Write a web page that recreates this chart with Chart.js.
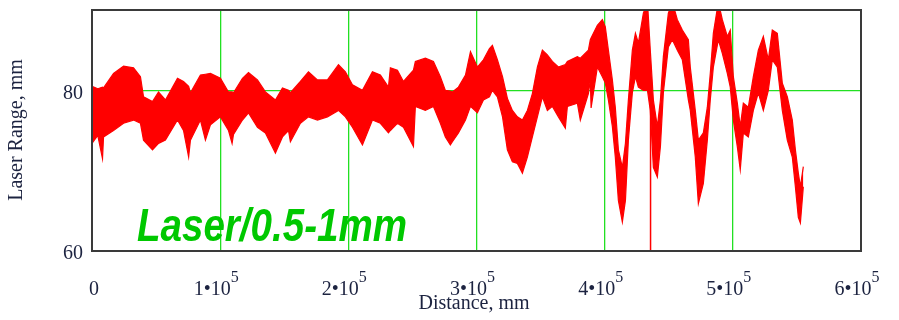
<!DOCTYPE html>
<html>
<head>
<meta charset="utf-8">
<script src="https://cdn.jsdelivr.net/npm/chart.js@4.4.1/dist/chart.umd.min.js"></script>
<style>
html,body{margin:0;padding:0;background:#fff;}
#wrap{width:899px;height:320px;position:relative;}
</style>
</head>
<body>
<div id="wrap"><canvas id="c" width="899" height="320"></canvas></div>
<script>
// Distance along the run, mm
const distance = [0, 4500, 8200, 9000, 16800, 24600, 32400, 37800, 40200, 47200, 51900, 57300, 66700, 71400, 75400, 76800,
  84600, 88500, 92400, 100200, 106500, 109300, 110400, 117400, 122100, 129100, 135300, 143100, 148600, 153300, 154800,
  162600, 168900, 175900, 183700, 192300, 197700, 203200, 211000, 218800, 225000, 231300, 232800,
  238300, 243000, 250800, 252300, 260100, 266400, 271800, 275700, 279600, 281200, 285900, 291400, 295300,
  300700, 305400, 310100, 312400, 316300, 320300, 324100, 328000, 331900, 335800, 339700, 343600,
  347500, 351400, 355300, 359200, 363900, 369300, 370900, 378700, 381000, 387300, 388800, 389400,
  394300, 398200, 400500, 402900, 406000, 408300, 410700, 413800, 416200, 418500, 421600, 424000,
  426300, 430200, 433400, 435600, 438000, 441100, 443500, 445800, 449700, 452800, 456700, 460600,
  465300, 466800, 470700, 473100, 477000, 480100, 482400, 484800, 488700, 491800, 495700, 498000,
  500400, 503500, 505800, 508200, 512100, 516000, 519900, 523800, 527700, 530800, 534700, 538600,
  542500, 546400, 548800, 551100, 552700, 555000];
// Upper envelope of the laser range signal, mm
const rangeHigh = [80.5, 80.2, 80.4, 80.3, 82.1, 83.0, 82.8, 81.7, 79.2, 78.6, 79.8, 78.8, 81.5, 81.1, 80.5, 79.7,
  81.9, 82.0, 82.1, 81.5, 79.8, 79.8, 79.7, 81.5, 82.2, 81.3, 79.8, 78.8, 80.3, 80.0, 79.7,
  81.1, 82.3, 81.3, 81.3, 83.2, 82.3, 80.7, 80.0, 82.3, 81.9, 80.4, 82.8,
  82.5, 81.1, 82.5, 83.6, 84.0, 83.6, 81.7, 80.0, 79.9, 79.8, 80.4, 81.9, 84.8,
  82.9, 83.8, 85.2, 85.6, 83.8, 81.7, 79.0, 77.5, 76.7, 76.3, 77.5, 79.6,
  82.9, 85.0, 84.4, 83.6, 82.9, 83.2, 83.6, 84.2, 84.0, 85.0, 86.3, 86.5,
  88.1, 88.8, 87.9, 85.0, 81.3, 77.9, 72.6, 70.4, 73.4, 78.8, 85.0, 87.1,
  85.9, 89.6, 91.0, 85.0, 78.8, 75.5, 78.8, 84.2, 89.6, 91.0, 88.8, 87.5,
  86.3, 82.9, 77.5, 73.8, 74.7, 77.9, 82.1, 87.1, 91.0, 88.8, 86.7, 87.5,
  81.7, 78.4, 75.5, 78.4, 77.9, 81.7, 85.0, 86.7, 83.8, 87.5, 87.1, 80.9,
  79.2, 76.3, 72.6, 69.7, 68.0, 70.5];
// Lower envelope (including downward noise spikes), mm
const rangeLow = [73.4, 74.4, 71.5, 74.2, 75.0, 75.9, 76.3, 75.9, 73.8, 72.6, 73.4, 73.8, 76.3, 75.0, 71.7, 73.8,
  76.3, 73.8, 75.7, 76.7, 75.0, 73.4, 74.5, 76.3, 77.2, 75.4, 74.7, 72.2, 74.2, 75.0, 73.6,
  75.9, 76.7, 76.3, 76.7, 77.5, 76.7, 75.4, 73.2, 76.3, 75.9, 74.7, 75.0,
  75.9, 75.4, 73.0, 78.0, 77.5, 78.0, 75.9, 74.2, 73.2, 73.6, 74.7, 76.3, 78.0,
  77.2, 78.8, 79.2, 80.0, 79.2, 76.7, 72.6, 71.1, 70.9, 69.7, 71.7, 74.2,
  76.7, 79.2, 77.5, 78.0, 76.7, 75.3, 78.0, 78.4, 76.3, 79.6, 81.3, 77.8,
  82.9, 81.7, 80.9, 78.8, 75.5, 71.7, 66.3, 63.6, 66.3, 73.8, 79.7, 81.7,
  80.4, 80.0, 80.0, 77.5, 70.4, 69.2, 73.0, 79.7, 85.4, 86.3, 85.0, 83.8,
  78.8, 77.5, 71.7, 65.9, 68.4, 73.8, 78.8, 82.9, 86.3, 84.6, 82.1, 80.4,
  76.3, 73.0, 70.1, 74.7, 74.2, 77.5, 79.7, 77.5, 80.0, 83.8, 82.9, 77.5,
  73.8, 71.7, 68.0, 64.2, 63.5, 68.0];
// Signal dropout
const dropoutDistance = [435800, 435800];
const dropoutRange = [78.0, 58.0];

const xTickValues = [0, 100000, 200000, 300000, 400000, 500000, 600000];
const yTickValues = [60, 80];
const annotationText = "Laser/0.5-1mm";
const xTitle = "Distance, mm";
const yTitle = "Laser Range, mm";

const RED = '#ff0000';
const GRID = '#22e022';
const TXT = '#1c2340';

const pts = (xs, ys) => xs.map((x, i) => ({x: x, y: ys[i]}));

const textPlugin = {
  id: 'texts',
  afterDraw(chart) {
    const ctx = chart.ctx;
    const a = chart.chartArea;
    const xs = chart.scales.x;
    ctx.save();
    ctx.strokeStyle = '#3a3a3a';
    ctx.lineWidth = 2;
    ctx.strokeRect(a.left, a.top, a.right - a.left, a.bottom - a.top);
    ctx.restore();
    ctx.save();
    ctx.fillStyle = TXT;
    ctx.textBaseline = 'alphabetic';
    xTickValues.forEach(v => {
      const px = xs.getPixelForValue(v);
      const base = 295;
      if (v === 0) {
        ctx.font = '20px "Liberation Serif"';
        ctx.textAlign = 'center';
        ctx.fillText('0', px + 2, base);
        return;
      }
      const m = String(Math.round(v / 100000));
      const main = m + '\u202210';
      ctx.font = '20px "Liberation Serif"';
      const w1 = ctx.measureText(main).width;
      ctx.font = '16px "Liberation Serif"';
      const w2 = ctx.measureText('5').width;
      const start = px - 4 - (w1 + w2) / 2;
      ctx.textAlign = 'left';
      ctx.font = '20px "Liberation Serif"';
      ctx.fillText(main, start, base);
      ctx.font = '16px "Liberation Serif"';
      ctx.fillText('5', start + w1, base - 13);
    });
    ctx.font = '20px "Liberation Serif"';
    ctx.textAlign = 'center';
    ctx.fillText(xTitle, 474, 309);
    ctx.translate(22, 130);
    ctx.rotate(-Math.PI / 2);
    ctx.fillText(yTitle, 0, 0);
    ctx.restore();
    ctx.save();
    ctx.font = 'italic bold 47px "Liberation Sans"';
    ctx.fillStyle = '#00c800';
    ctx.textAlign = 'left';
    const w = ctx.measureText(annotationText).width;
    const sx = 270 / w;
    ctx.translate(137, 241);
    ctx.scale(sx, 1);
    ctx.fillText(annotationText, 0, 0);
    ctx.restore();
  }
};

new Chart(document.getElementById('c'), {
  type: 'scatter',
  data: {
    datasets: [
      {data: pts(distance, rangeHigh), showLine: true, borderColor: RED, borderWidth: 1.2, pointRadius: 0, fill: false},
      {data: pts(distance, rangeLow), showLine: true, borderColor: RED, borderWidth: 1.2, pointRadius: 0, fill: '-1', backgroundColor: RED},
      {data: pts(dropoutDistance, dropoutRange), showLine: true, borderColor: RED, borderWidth: 1.5, pointRadius: 0, fill: false}
    ]
  },
  options: {
    responsive: false,
    animation: false,
    layout: {padding: {top: 10, right: 38, left: 0, bottom: 0}},
    plugins: {legend: {display: false}, tooltip: {enabled: false}},
    scales: {
      x: {
        type: 'linear', min: 0, max: 600000,
        afterBuildTicks: s => { s.ticks = xTickValues.map(v => ({value: v})); },
        afterFit: s => { s.height = 69; s.paddingLeft = 0; s.paddingRight = 0; },
        ticks: {display: false},
        border: {display: false},
        grid: {drawTicks: false, lineWidth: 1.3,
          color: c => (c.tick && (c.tick.value === 0 || c.tick.value === 600000)) ? 'rgba(0,0,0,0)' : GRID}
      },
      y: {
        min: 60, max: 90,
        afterBuildTicks: s => { s.ticks = yTickValues.map(v => ({value: v})); },
        afterFit: s => { s.width = 92; s.paddingTop = 0; s.paddingBottom = 0; },
        ticks: {font: {family: 'Liberation Serif', size: 20}, color: TXT, padding: 9, labelOffset: 3},
        border: {display: false},
        grid: {drawTicks: false, lineWidth: 1.3,
          color: c => (c.tick && c.tick.value === 80) ? GRID : 'rgba(0,0,0,0)'}
      }
    }
  },
  plugins: [textPlugin]
});
</script>
</body>
</html>
